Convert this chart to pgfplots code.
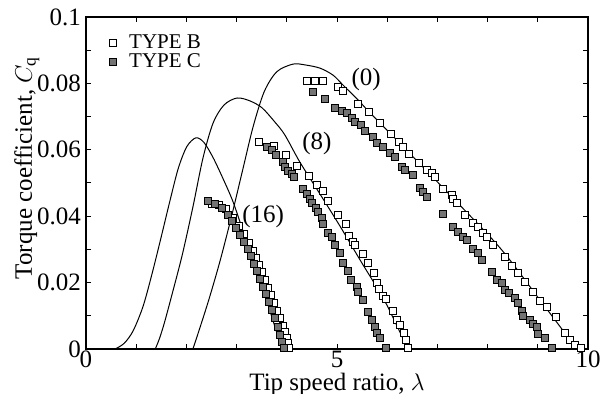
\documentclass[border=0pt]{standalone}
\usepackage{fontspec}
\setmainfont{Liberation Serif}
\usepackage{pgfplots}
\pgfplotsset{compat=1.18}
\begin{document}
\begin{tikzpicture}
\begin{axis}[
  scale only axis,
  width=251pt, height=166pt,
  xmin=0, xmax=10, ymin=0, ymax=0.1,
  xtick={0,5,10}, xticklabels={0,5,10},
  minor xtick={1,2,3,4,6,7,8,9},
  ytick={0,0.02,0.04,0.06,0.08,0.1},
  yticklabels={0,0.02,0.04,0.06,0.08,0.1},
  minor ytick={0.01,0.03,0.05,0.07,0.09},
  tick align=inside,
  major tick length=2.6pt, minor tick length=2.6pt,
  tick style={line width=0.5pt, black},
  axis line style={line width=0.6pt},
  ticklabel style={font=\fontsize{12.5}{14}\selectfont},
  xticklabel style={yshift=2.5pt},
  yticklabel style={xshift=1pt},
  xlabel={Tip speed ratio, $\lambda$},
  ylabel={Torque coefficient, $C_{\mathrm{q}}$},
  every axis x label/.style={at={(axis description cs:0.5,-0.107)}, anchor=center, font=\fontsize{12.5}{14}\selectfont},
  every axis y label/.style={at={(axis description cs:-0.118,0.545)}, rotate=90, anchor=center, font=\fontsize{12.5}{14}\selectfont},
  legend style={at={(0.04,0.965)}, anchor=north west, draw=none, fill=none,
    font=\fontsize{10.5}{11}\selectfont, row sep=-3pt, inner sep=1pt},
  legend image code/.code={\draw[#1] plot coordinates {(0cm,0cm)}; \path (-0.08cm,0cm) (0.2cm,0cm);},
  legend cell align=left,
  clip=false,
]
% TYPE B (open squares)
\addplot[only marks, mark=square*, mark size=1.75pt, mark options={fill=white, draw=black, line width=0.45pt}] coordinates {
(4.40,0.0807)(4.56,0.0807)(4.72,0.0807)(5.02,0.0789)(5.12,0.0777)(5.42,0.0738)(5.64,0.0714)(5.86,0.0681)
(6.08,0.0648)(6.24,0.0623)(6.31,0.0608)(6.43,0.0587)(6.63,0.0560)(6.79,0.0539)(6.89,0.0530)(6.95,0.0518)
(7.11,0.0482)(7.29,0.0464)(7.31,0.0452)(7.39,0.0440)(7.55,0.0404)(7.71,0.0380)(7.81,0.0367)(7.91,0.0349)
(7.99,0.0337)(8.11,0.0313)(8.35,0.0277)(8.49,0.0250)(8.61,0.0229)(8.75,0.0202)(8.90,0.0172)(9.04,0.0145)
(9.18,0.0127)(9.36,0.0096)(9.54,0.0048)(9.64,0.0027)(9.74,0.0012)(9.86,0.0003)
(3.45,0.0623)(3.75,0.0611)(3.98,0.0584)(4.20,0.0551)(4.44,0.0521)(4.60,0.0494)(4.72,0.0476)(4.82,0.0446)
(5.02,0.0404)(5.18,0.0377)(5.24,0.0340)(5.32,0.0322)(5.36,0.0313)(5.52,0.0286)(5.62,0.0259)(5.74,0.0229)
(5.80,0.0199)(5.84,0.0181)(5.92,0.0160)(5.98,0.0151)(6.12,0.0114)(6.20,0.0087)(6.26,0.0072)(6.33,0.0048)
(6.37,0.0027)(6.41,0.0003)
(2.51,0.0437)(2.65,0.0433)(2.79,0.0421)(2.93,0.0395)(3.05,0.0370)(3.15,0.0346)(3.25,0.0319)(3.33,0.0295)
(3.39,0.0274)(3.45,0.0253)(3.51,0.0232)(3.57,0.0208)(3.63,0.0184)(3.69,0.0163)(3.75,0.0139)(3.80,0.0114)
(3.86,0.0093)(3.92,0.0069)(3.96,0.0051)(4.00,0.0033)(4.02,0.0018)(4.04,0.0003)
};
\addlegendentry{TYPE B}
% TYPE C (filled squares)
\addplot[only marks, mark=square*, mark size=1.75pt, mark options={fill=black!55, draw=black, line width=0.45pt}] coordinates {
(4.52,0.0774)(4.76,0.0753)(4.96,0.0726)(5.10,0.0717)(5.20,0.0711)(5.30,0.0696)(5.36,0.0684)(5.48,0.0675)
(5.56,0.0657)(5.72,0.0639)(5.80,0.0620)(5.92,0.0608)(6.06,0.0590)(6.16,0.0578)(6.29,0.0548)(6.35,0.0539)
(6.51,0.0524)(6.65,0.0485)(6.71,0.0473)(6.79,0.0458)(7.11,0.0407)(7.31,0.0367)(7.41,0.0352)(7.51,0.0337)
(7.59,0.0328)(7.71,0.0301)(7.81,0.0289)(7.89,0.0268)(8.09,0.0232)(8.19,0.0208)(8.29,0.0199)(8.35,0.0178)
(8.43,0.0169)(8.55,0.0154)(8.61,0.0139)(8.69,0.0114)(8.71,0.0099)(8.84,0.0087)(8.90,0.0075)(8.98,0.0066)
(9.00,0.0045)(9.14,0.0033)(9.28,0.0003)
(3.61,0.0608)(3.71,0.0599)(3.78,0.0584)(3.92,0.0563)(3.96,0.0548)(4.02,0.0536)(4.10,0.0527)(4.14,0.0518)
(4.32,0.0482)(4.40,0.0467)(4.46,0.0452)(4.50,0.0440)(4.58,0.0425)(4.62,0.0413)(4.70,0.0395)(4.72,0.0377)
(4.82,0.0349)(4.90,0.0337)(4.96,0.0313)(5.06,0.0289)(5.12,0.0259)(5.22,0.0235)(5.28,0.0208)(5.40,0.0187)
(5.42,0.0172)(5.52,0.0148)(5.62,0.0111)(5.70,0.0087)(5.76,0.0066)(5.80,0.0048)(5.86,0.0033)(5.98,0.0003)
(2.43,0.0446)(2.57,0.0437)(2.71,0.0425)(2.83,0.0405)(2.91,0.0386)(2.99,0.0364)(3.07,0.0343)(3.15,0.0322)
(3.23,0.0301)(3.29,0.0280)(3.35,0.0256)(3.41,0.0235)(3.47,0.0211)(3.53,0.0187)(3.59,0.0166)(3.65,0.0142)
(3.71,0.0117)(3.76,0.0093)(3.82,0.0066)(3.86,0.0042)(3.90,0.0021)(3.94,0.0003)
};
\addlegendentry{TYPE C}
% curve (16)
\addplot[black, line width=0.5pt, smooth, tension=0.5, mark=none, forget plot] coordinates {
(0.58,0)(0.76,0.0017)(0.94,0.0055)(1.14,0.0130)(1.33,0.0235)(1.51,0.0345)(1.67,0.0445)(1.84,0.0545)
(2.01,0.0610)(2.19,0.0636)(2.35,0.0622)(2.53,0.0577)(2.73,0.0513)(2.93,0.0443)(3.17,0.0337)(3.47,0.0208)(3.90,0)
};
% curve (8)
\addplot[black, line width=0.5pt, smooth, tension=0.5, mark=none, forget plot] coordinates {
(1.38,0)(1.46,0.0030)(1.56,0.0078)(1.72,0.0168)(1.92,0.0285)(2.13,0.0428)(2.33,0.0575)(2.53,0.0680)
(2.75,0.0735)(3.01,0.0756)(3.27,0.0747)(3.51,0.0726)(3.76,0.0684)(3.96,0.0645)(4.26,0.0563)(4.66,0.0467)
(5.06,0.0370)(5.46,0.0268)(5.96,0.0142)(6.41,0)
};
% curve (0)
\addplot[black, line width=0.5pt, smooth, tension=0.5, mark=none, forget plot] coordinates {
(2.13,0)(2.25,0.0055)(2.45,0.0150)(2.67,0.0265)(2.90,0.0400)(3.13,0.0545)(3.33,0.0670)
(3.55,0.0775)(3.80,0.0835)(4.12,0.0858)(4.35,0.0856)(4.66,0.0846)(4.92,0.0825)(5.12,0.0795)(5.42,0.0750)
(5.66,0.0711)(6.25,0.0620)(7.25,0.0464)(8.25,0.0304)(9.04,0.0148)(9.78,0)
};
\node[font=\fontsize{12.5}{14}\selectfont] at (axis cs:5.58,0.0813) {(0)};
\node[font=\fontsize{12.5}{14}\selectfont] at (axis cs:4.60,0.0620) {(8)};
\node[font=\fontsize{12.5}{14}\selectfont] at (axis cs:3.53,0.0398) {(16)};
\end{axis}
\pgfresetboundingbox
\path ([xshift=-43pt,yshift=-22.5pt]current axis.south west) rectangle ([xshift=6pt,yshift=8.5pt]current axis.north east);
\end{tikzpicture}
\end{document}
